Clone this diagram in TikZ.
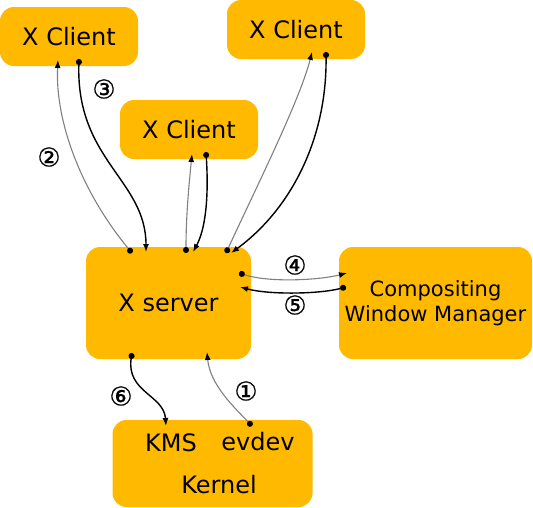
\documentclass[tikz,border=0pt]{standalone}
\usepackage{fontspec}
\setmainfont{DejaVu Sans}
\newfontfamily\numfont{DejaVu Sans}[FakeBold=0.5]
\usetikzlibrary{arrows.meta}
\definecolor{boxorange}{HTML}{FFBA00}
\definecolor{arrgray}{HTML}{808080}
\tikzset{
  box/.style={fill=boxorange, rounded corners=14pt, inner sep=0pt, font=\fontsize{24}{28}\selectfont},
  wmbox/.style={box, align=center, font=\fontsize{21}{25}\selectfont},
  lbl/.style={font=\fontsize{24}{28}\selectfont, inner sep=0pt},
  num/.style={font=\numfont\fontsize{26}{26}\selectfont, inner sep=0pt},
  blk/.style={draw=black, line width=1.4pt, {Circle[length=6pt,color=black]}-{Latex[length=8pt,width=6pt,color=black]}},
  gry/.style={draw=arrgray, line width=1.1pt, {Circle[length=6pt,color=black]}-{Latex[length=8pt,width=6pt,color=black]}}
}
\begin{document}
\begin{tikzpicture}[x=1pt,y=-1pt]
\useasboundingbox (0,0) rectangle (533,507);
% boxes
\node[box, minimum width=138pt, minimum height=59pt] (c1) at (69,36.5) {X Client};
\node[box, minimum width=138pt, minimum height=59pt] (c2) at (296,29.5) {X Client};
\node[box, minimum width=138pt, minimum height=59pt] (c3) at (189,129.5) {X Client};
\node[box, minimum width=165pt, minimum height=112pt] (xs) at (168.5,303) {X server};
\node[wmbox, minimum width=193pt, minimum height=112pt] (wm) at (435.5,303) {Compositing\\Window Manager};
\node[box, minimum width=200pt, minimum height=87pt] (kr) at (212.5,463.5) {};
\node[lbl] (kms) at (171,443) {KMS};
\node[lbl] (evd) at (258,441.5) {evdev};
\node[lbl] (krl) at (219,485) {Kernel};
% endpoints
\coordinate (a1s) at (132,253); \coordinate (a1e) at (58,60);
\coordinate (b1s) at (79,59);   \coordinate (b1e) at (146,252);
\coordinate (a3s) at (186,253); \coordinate (a3e) at (192,154);
\coordinate (b3s) at (206,152); \coordinate (b3e) at (193,252);
\coordinate (a2s) at (226,253); \coordinate (a2e) at (312,52);
\coordinate (b2s) at (326,52);  \coordinate (b2e) at (231,253);
\coordinate (a4s) at (239,273); \coordinate (a4e) at (347,273);
\coordinate (b5s) at (346,287); \coordinate (b5e) at (240,287);
\coordinate (a6s) at (252,426); \coordinate (a6e) at (207,352);
\coordinate (b6s) at (132,353); \coordinate (b6e) at (166,426);
% connectors
\draw[gry] (a1s) .. controls (80,190) and (55,120) .. (a1e);
\draw[blk] (b1s) .. controls (76,160) and (146,180) .. (b1e);
\draw[gry] (a3s) .. controls (186,215) and (189,185) .. (a3e);
\draw[blk] (b3s) .. controls (209,200) and (205,230) .. (b3e);
\draw[gry] (a2s) .. controls (255,190) and (300,100) .. (a2e);
\draw[blk] (b2s) .. controls (327,140) and (290,210) .. (b2e);
\draw[gry] (a4s) .. controls (270,283) and (320,280) .. (a4e);
\draw[blk] (b5s) .. controls (320,294) and (270,295) .. (b5e);
\draw[gry] (a6s) .. controls (235,408) and (210,385) .. (a6e);
\draw[blk] (b6s) .. controls (126,392) and (164,395) .. (b6e);
% numbers
\node[num] (n1) at (246,391) {①};
\node[num] (n2) at (49,157) {②};
\node[num] (n3) at (104,89) {③};
\node[num] (n4) at (295,265) {④};
\node[num] (n5) at (295,305) {⑤};
\node[num] (n6) at (121,396) {⑥};
\end{tikzpicture}
\end{document}
